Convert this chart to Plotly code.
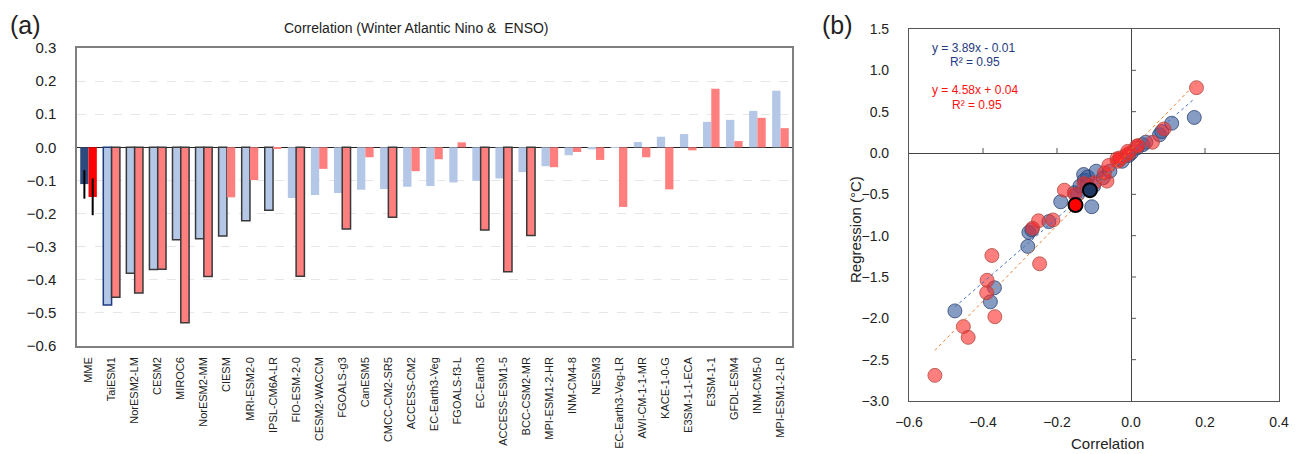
import plotly.graph_objects as go

# ---------------- data ----------------
models = ["MME", "TaiESM1", "NorESM2-LM", "CESM2", "MIROC6", "NorESM2-MM", "CIESM",
          "MRI-ESM2-0", "IPSL-CM6A-LR", "FIO-ESM-2-0", "CESM2-WACCM", "FGOALS-g3",
          "CanESM5", "CMCC-CM2-SR5", "ACCESS-CM2", "EC-Earth3-Veg", "FGOALS-f3-L",
          "EC-Earth3", "ACCESS-ESM1-5", "BCC-CSM2-MR", "MPI-ESM1-2-HR", "INM-CM4-8",
          "NESM3", "EC-Earth3-Veg-LR", "AWI-CM-1-1-MR", "KACE-1-0-G", "E3SM-1-1-ECA",
          "E3SM-1-1", "GFDL-ESM4", "INM-CM5-0", "MPI-ESM1-2-LR"]

corr_blue = [-0.111, -0.476, -0.380, -0.369, -0.279, -0.276, -0.268,
             -0.222, -0.190, -0.153, -0.144, -0.138,
             -0.128, -0.126, -0.119, -0.117, -0.106,
             -0.101, -0.094, -0.075, -0.057, -0.024,
             -0.006, 0.001, 0.016, 0.032, 0.040,
             0.077, 0.083, 0.110, 0.171]

corr_red = [-0.150, -0.453, -0.440, -0.368, -0.530, -0.390, -0.151,
            -0.099, -0.005, -0.389, -0.065, -0.247,
            -0.030, -0.211, -0.072, -0.036, 0.015,
            -0.250, -0.376, -0.266, -0.060, -0.014,
            -0.038, -0.180, -0.030, -0.127, -0.009,
            0.177, 0.019, 0.089, 0.058]

reg_blue = [-0.45, -1.91, -1.80, -1.63, -1.13, -0.96, -0.93,
            -0.83, -0.59, -0.48, -0.50, -0.40,
            -0.26, -0.33, -0.38, -0.29, -0.65,
            -0.40, -0.22, -0.30, -0.22, -0.10,
            -0.03, 0.00, 0.06, 0.10, 0.13,
            0.22, 0.26, 0.36, 0.43]

reg_red = [-0.63, -2.10, -2.23, -1.98, -2.69, -1.69, -0.50,
           -0.36, 0.00, -1.54, -0.34, -1.34,
           -0.08, -0.81, -0.24, -0.10, 0.08,
           -0.82, -1.24, -0.91, -0.15, -0.03,
           -0.07, -0.45, -0.06, -0.37, 0.02,
           0.79, 0.09, 0.29, 0.13]

sig_blue = [0, 1, 1, 1, 1, 1, 1, 1, 1, 0, 0, 0, 0, 0, 0, 0, 0, 0, 0, 0, 0, 0, 0, 0, 0, 0, 0, 0, 0, 0, 0]
sig_red = [0, 1, 1, 1, 1, 1, 0, 0, 0, 1, 0, 1, 0, 1, 0, 0, 0, 1, 1, 1, 0, 0, 0, 0, 0, 0, 0, 0, 0, 0, 0]

mme_err_blue_plus, mme_err_blue_minus = 0.042, 0.044
mme_err_red_plus, mme_err_red_minus = 0.056, 0.055

fit_blue = (3.89, -0.01)
fit_red = (4.58, 0.04)
fit_text_blue = ["y = 3.89x - 0.01", "R² = 0.95"]
fit_text_red = ["y = 4.58x + 0.04", "R² = 0.95"]

bar_yticks = [0.3, 0.2, 0.1, 0.0, -0.1, -0.2, -0.3, -0.4, -0.5, -0.6]
sc_xticks = [-0.6, -0.4, -0.2, 0.0, 0.2, 0.4]
sc_yticks = [1.5, 1.0, 0.5, 0.0, -0.5, -1.0, -1.5, -2.0, -2.5, -3.0]

# ---------------- styling ----------------
FONT = "Arial, Liberation Sans, sans-serif"
W, H = 1297, 454
BLUE_LIGHT, RED_LIGHT = "#B4C7E7", "#FF7F7F"
BLUE_MME, RED_MME = "#2E4A7D", "#FF0000"

def px_x(p):
    return p / W

def px_y(p):
    return 1 - p / H

n = len(models)
blue_colors = [BLUE_MME] + [BLUE_LIGHT] * (n - 1)
red_colors = [RED_MME] + [RED_LIGHT] * (n - 1)
blue_lc = ["#1F3A80" if i == 1 else "#3A3A3A" for i in range(n)]
blue_lw = [1.5 if s else 0 for s in sig_blue]
red_lw = [1.5 if s else 0 for s in sig_red]

def err(plus, minus):
    return [plus] + [None] * (n - 1), [minus] + [None] * (n - 1)

eb_p, eb_m = err(mme_err_blue_plus, mme_err_blue_minus)
er_p, er_m = err(mme_err_red_plus, mme_err_red_minus)

fig = go.Figure()
fig.add_trace(go.Bar(x=models, y=corr_blue, xaxis="x", yaxis="y",
                     marker=dict(color=blue_colors, line=dict(color=blue_lc, width=blue_lw)),
                     error_y=dict(type="data", symmetric=False, array=eb_p, arrayminus=eb_m,
                                  color="black", thickness=2, width=0),
                     showlegend=False))
fig.add_trace(go.Bar(x=models, y=corr_red, xaxis="x", yaxis="y",
                     marker=dict(color=red_colors, line=dict(color="#3A3A3A", width=red_lw)),
                     error_y=dict(type="data", symmetric=False, array=er_p, arrayminus=er_m,
                                  color="black", thickness=2, width=0),
                     showlegend=False))

# scatter
blue_fill = "rgba(47,85,151,0.58)"
blue_line = "rgba(40,60,110,0.75)"
red_fill = "rgba(255,40,40,0.6)"
red_line = "rgba(170,70,60,0.75)"

fig.add_trace(go.Scatter(x=corr_blue[1:], y=reg_blue[1:], mode="markers", xaxis="x2", yaxis="y2",
                         marker=dict(size=14, color=blue_fill, line=dict(color=blue_line, width=1)),
                         showlegend=False))
fig.add_trace(go.Scatter(x=corr_red[1:], y=reg_red[1:], mode="markers", xaxis="x2", yaxis="y2",
                         marker=dict(size=14, color=red_fill, line=dict(color=red_line, width=1)),
                         showlegend=False))

def fit_line(xs, coef):
    lo, hi = min(xs), max(xs)
    return [lo, hi], [coef[0] * lo + coef[1], coef[0] * hi + coef[1]]

fx, fy = fit_line(corr_blue, fit_blue)
fig.add_trace(go.Scatter(x=fx, y=fy, mode="lines", xaxis="x2", yaxis="y2",
                         line=dict(color="#4472C4", width=1, dash="dot"), showlegend=False))
fx, fy = fit_line(corr_red, fit_red)
fig.add_trace(go.Scatter(x=fx, y=fy, mode="lines", xaxis="x2", yaxis="y2",
                         line=dict(color="#ED7D31", width=1, dash="dot"), showlegend=False))

fig.add_trace(go.Scatter(x=[corr_blue[0]], y=[reg_blue[0]], mode="markers", xaxis="x2", yaxis="y2",
                         marker=dict(size=14, color="#203864", line=dict(color="black", width=2)),
                         showlegend=False))
fig.add_trace(go.Scatter(x=[corr_red[0]], y=[reg_red[0]], mode="markers", xaxis="x2", yaxis="y2",
                         marker=dict(size=14, color=RED_MME, line=dict(color="black", width=2)),
                         showlegend=False))

# inner tick marks on the zero lines of the scatter
shapes = []
for t in sc_xticks:
    if t in (-0.6, 0.0, 0.4):
        continue
    shapes.append(dict(type="line", xref="x2", yref="y2", x0=t, x1=t, ysizemode="pixel",
                       yanchor=0, y0=0, y1=5, line=dict(color="#555", width=1)))
for t in sc_yticks:
    if t in (1.5, 0.0, -3.0):
        continue
    shapes.append(dict(type="line", xref="x2", yref="y2", y0=t, y1=t, xsizemode="pixel",
                       xanchor=0, x0=0, x1=5, line=dict(color="#555", width=1)))

ann = [
    dict(text="(a)", x=px_x(8), y=px_y(25), xref="paper", yref="paper", xanchor="left",
         yanchor="middle", showarrow=False, font=dict(size=25, color="#222", family=FONT)),
    dict(text="(b)", x=px_x(820), y=px_y(25), xref="paper", yref="paper", xanchor="left",
         yanchor="middle", showarrow=False, font=dict(size=25, color="#222", family=FONT)),
    dict(text="Correlation (Winter Atlantic Nino &  ENSO)", x=px_x(416), y=px_y(28),
         xref="paper", yref="paper", xanchor="center", yanchor="middle", showarrow=False,
         font=dict(size=14, color="#222", family=FONT)),
    dict(text="Correlation", x=px_x(1107), y=px_y(443), xref="paper", yref="paper",
         xanchor="center", yanchor="middle", showarrow=False,
         font=dict(size=15, color="#222", family=FONT)),
    dict(text="Regression (°C)", x=px_x(855), y=px_y(230), xref="paper", yref="paper",
         xanchor="center", yanchor="middle", textangle=-90, showarrow=False,
         font=dict(size=15, color="#222", family=FONT)),
    dict(text=fit_text_blue[0], x=px_x(930), y=px_y(48), xref="paper", yref="paper",
         xanchor="left", yanchor="middle", showarrow=False,
         font=dict(size=12, color="#1F3A80", family=FONT)),
    dict(text=fit_text_blue[1], x=px_x(948), y=px_y(62), xref="paper", yref="paper",
         xanchor="left", yanchor="middle", showarrow=False,
         font=dict(size=12, color="#1F3A80", family=FONT)),
    dict(text=fit_text_red[0], x=px_x(930), y=px_y(90), xref="paper", yref="paper",
         xanchor="left", yanchor="middle", showarrow=False,
         font=dict(size=12, color="#FF1010", family=FONT)),
    dict(text=fit_text_red[1], x=px_x(950), y=px_y(105), xref="paper", yref="paper",
         xanchor="left", yanchor="middle", showarrow=False,
         font=dict(size=12, color="#FF1010", family=FONT)),
]

fig.update_layout(
    width=W, height=H, margin=dict(l=0, r=0, t=0, b=0, autoexpand=False),
    paper_bgcolor="white", plot_bgcolor="white",
    font=dict(family=FONT, color="#222"),
    barmode="group", bargap=0.28, bargroupgap=0,
    shapes=shapes, annotations=ann,
    xaxis=dict(domain=[px_x(77), px_x(792)], anchor="y", type="category", automargin=False,
               tickangle=-90, tickfont=dict(size=11, family=FONT), ticks="",
               showline=True, linecolor="#7F7F7F", linewidth=1.5, mirror=True,
               showgrid=False, ticklabelstandoff=5),
    yaxis=dict(domain=[px_y(346), px_y(48)], anchor="x", range=[-0.6, 0.3], automargin=False,
               tickvals=bar_yticks, tickformat=".1f", tickfont=dict(size=15, family=FONT),
               ticks="", showline=True, linecolor="#7F7F7F", linewidth=1.5, mirror=True,
               showgrid=True, gridcolor="#E6E6E6", griddash="dash", gridwidth=1,
               zeroline=True, zerolinecolor="#222", zerolinewidth=1.2,
               ticklabelstandoff=16),
    xaxis2=dict(domain=[px_x(909), px_x(1279)], anchor="y2", range=[-0.6, 0.4], automargin=False,
                tickvals=sc_xticks, tickformat=".1f", tickfont=dict(size=14, family=FONT),
                ticks="", showline=True, linecolor="#555", linewidth=1.2, mirror=True,
                showgrid=False, zeroline=True, zerolinecolor="#444", zerolinewidth=1.2,
                ticklabelstandoff=8),
    yaxis2=dict(domain=[px_y(401), px_y(29)], anchor="x2", range=[-3.0, 1.5], automargin=False,
                tickvals=sc_yticks, tickformat=".1f", tickfont=dict(size=14, family=FONT),
                ticks="", showline=True, linecolor="#555", linewidth=1.2, mirror=True,
                showgrid=False, zeroline=True, zerolinecolor="#444", zerolinewidth=1.2,
                ticklabelstandoff=16),
)

fig.write_html("out.html")
